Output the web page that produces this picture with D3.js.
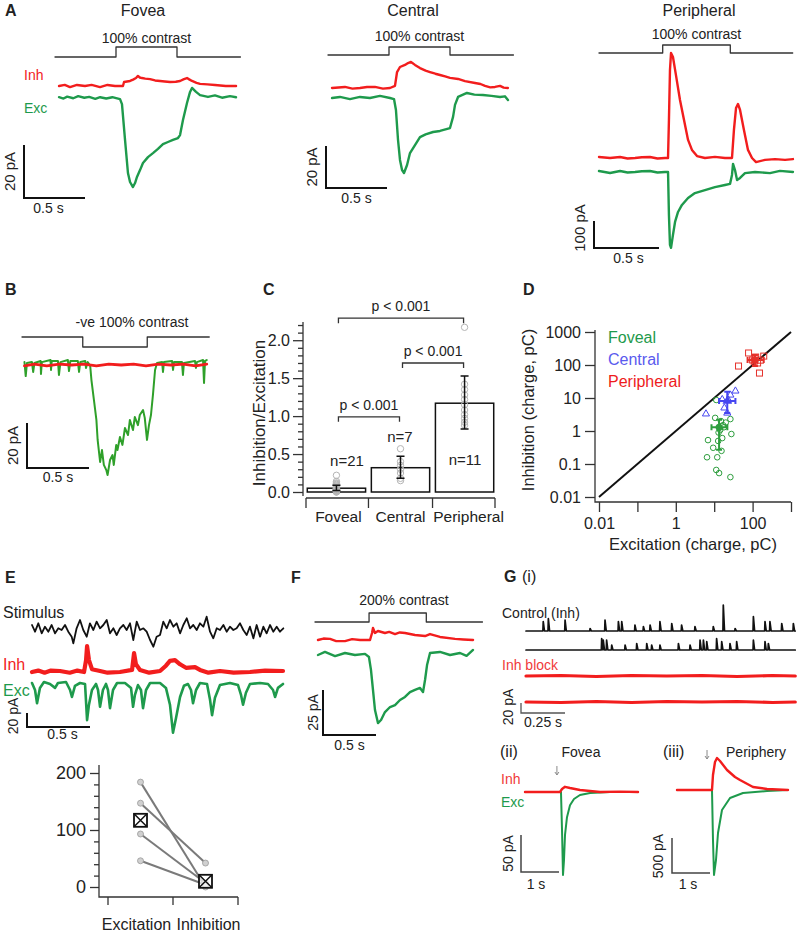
<!DOCTYPE html>
<html><head><meta charset="utf-8">
<script src="https://cdn.jsdelivr.net/npm/d3@7/dist/d3.min.js"></script>
<style>
html,body{margin:0;padding:0;background:#fff;}
svg{display:block;font-family:"Liberation Sans",Arial,Helvetica,sans-serif;}
</style></head><body>
<svg id="fig" width="800" height="932"></svg>
<script>
// ================= DATA =================
// Stimulus waveforms: [time (s), contrast (%)]
const stimA    = [[0,0],[0.5,0],[0.5,100],[1.0,100],[1.0,0],[1.52,0]];
const stimAPer = [[0,0],[0.49,0],[0.49,100],[1.01,100],[1.01,0],[1.49,0]];
const stimB    = [[0,0],[0.49,0],[0.49,-100],[1.01,-100],[1.01,0],[1.51,0]];
const stimF    = [[0,0],[0.51,0],[0.51,200],[1.05,200],[1.05,0],[1.58,0]];

// Panel A traces: [time (s), current (pA) relative to baseline]
const fovInh = [[0.033,0],[0.08,0.4],[0.123,-0.4],[0.18,0.4],[0.246,0],[0.3,0.4],[0.369,-0.4],[0.43,0.4],[0.492,0],[0.557,0],[0.566,1.5],[0.615,1.9],[0.64,2.4],[0.664,3.0],[0.680,3.8],[0.695,3.2],[0.713,3.0],[0.74,2.8],[0.779,2.6],[0.82,2.1],[0.861,1.9],[0.9,1.7],[0.943,1.5],[0.99,1.6],[1.025,1.9],[1.057,2.6],[1.082,3.0],[1.10,2.5],[1.123,1.9],[1.16,1.2],[1.189,0.8],[1.25,0.6],[1.311,0.4],[1.4,0],[1.484,0]];
const fovExc = [[0.033,0.3],[0.07,-0.2],[0.1,0.5],[0.15,-0.1],[0.19,0.7],[0.24,0.1],[0.28,0.4],[0.33,-0.3],[0.37,0.3],[0.42,-0.2],[0.47,0.3],[0.533,-0.4],[0.549,-2.3],[0.574,-15.8],[0.598,-28.3],[0.615,-31.7],[0.639,-33.6],[0.656,-32.1],[0.672,-29.8],[0.697,-27.2],[0.721,-24.5],[0.762,-22.3],[0.803,-20.8],[0.844,-19.2],[0.885,-17.4],[0.926,-16.6],[0.967,-15.8],[1.008,-15.1],[1.025,-14.0],[1.049,-8.3],[1.082,-1.9],[1.107,2.3],[1.123,3.8],[1.156,2.3],[1.189,1.1],[1.254,0.4],[1.311,1.0],[1.369,0.1],[1.434,0.7],[1.484,0.3]];
const cenInh = [[0.033,0],[0.139,0.5],[0.2,-0.3],[0.262,0],[0.32,0.5],[0.385,0.5],[0.45,-0.3],[0.508,0],[0.549,1.0],[0.566,7.6],[0.590,10.0],[0.631,11.0],[0.656,11.9],[0.680,12.4],[0.713,11.0],[0.754,9.5],[0.8,8.3],[0.836,7.6],[0.88,6.8],[0.918,6.2],[0.96,5.5],[1.000,4.8],[1.066,4.3],[1.123,3.3],[1.205,2.4],[1.25,1.9],[1.287,1.0],[1.33,0.3],[1.369,0.5],[1.410,1.0],[1.44,0.2],[1.475,0]];
const cenExc = [[0.033,0],[0.098,0.5],[0.180,-0.5],[0.262,0.5],[0.344,0],[0.426,1.0],[0.508,0],[0.541,-0.5],[0.557,-5.7],[0.574,-20],[0.590,-29.5],[0.607,-34.3],[0.623,-35.7],[0.648,-31.9],[0.672,-26.2],[0.713,-22.4],[0.754,-18.6],[0.80,-17.3],[0.861,-16.2],[0.918,-15.7],[1.000,-14.3],[1.025,-9.0],[1.041,-3.3],[1.066,0.5],[1.139,2.4],[1.2,1.6],[1.270,1.4],[1.34,1.0],[1.410,0.5],[1.45,0.8],[1.475,-1.0]];
const perInh = [[0,3.7],[0.085,0],[0.162,3.7],[0.22,-2],[0.277,0],[0.33,3],[0.392,3.7],[0.45,-2],[0.508,0],[0.531,0],[0.538,141],[0.546,326],[0.554,389],[0.569,374],[0.592,307],[0.623,215],[0.654,141],[0.685,67],[0.715,30],[0.754,7],[0.815,0],[0.892,4],[0.969,0],[1.023,0],[1.038,104],[1.054,185],[1.069,200],[1.085,178],[1.115,104],[1.146,30],[1.177,0],[1.208,-15],[1.277,-7],[1.354,-4],[1.431,-7],[1.492,-4]];
const perExc = [[0,3.7],[0.085,-3.7],[0.162,3.7],[0.22,-2],[0.277,0],[0.33,3],[0.392,3.7],[0.45,-2],[0.508,0],[0.531,0],[0.538,-159],[0.546,-270],[0.554,-281],[0.569,-233],[0.585,-185],[0.608,-148],[0.638,-122],[0.685,-96],[0.738,-78],[0.815,-67],[0.892,-56],[0.969,-48],[1.008,-44],[1.023,-11],[1.031,30],[1.046,7],[1.062,-30],[1.085,-22],[1.123,-4],[1.200,0],[1.315,-4],[1.392,4],[1.492,0]];

// Panel B traces (pA)
const bInh = [[0.02,-0.4],[0.1,0.4],[0.2,-0.4],[0.3,0.4],[0.4,0],[0.5,0.4],[0.6,-0.4],[0.7,0.4],[0.8,0],[0.9,0.4],[1.0,-0.4],[1.1,0.4],[1.2,0],[1.3,0.4],[1.4,-0.4],[1.49,0.4]];
const bExc = [[0.02,0.4],[0.03,-5.8],[0.04,0],[0.08,0.4],[0.09,-4.0],[0.10,0],[0.15,0.9],[0.153,-4.9],[0.16,0.4],[0.23,1.3],[0.234,-3.1],[0.24,0.9],[0.29,0.9],[0.298,-5.3],[0.31,0.4],[0.37,1.3],[0.379,-3.6],[0.39,0.9],[0.45,0.9],[0.46,-4.0],[0.47,0.4],[0.51,0.9],[0.516,-2.2],[0.53,0.4],[0.55,-1.3],[0.56,-7.6],[0.58,-16.4],[0.60,-25.3],[0.61,-34.2],[0.63,-44],[0.645,-38.7],[0.66,-45.3],[0.68,-47.6],[0.69,-49.8],[0.71,-43.1],[0.73,-40.9],[0.74,-45.3],[0.76,-36.4],[0.77,-38.7],[0.79,-32.9],[0.81,-36.4],[0.83,-28.9],[0.855,-32],[0.87,-25.3],[0.895,-29.8],[0.91,-24],[0.935,-27.6],[0.95,-23.1],[0.976,-20.9],[0.99,-24.4],[1.008,-34.2],[1.024,-27.6],[1.04,-23.1],[1.056,-14.2],[1.073,-3.1],[1.089,0],[1.13,0.4],[1.137,-4.0],[1.145,0.4],[1.21,0.9],[1.218,-3.1],[1.226,0.4],[1.29,0.4],[1.298,-5.3],[1.306,0],[1.395,0.9],[1.403,-2.2],[1.41,0.4],[1.46,1.3],[1.468,-8.9],[1.476,0.9],[1.49,1.3]];

// Panel C: inhibition / excitation ratio
const ratioCats  = ["Foveal","Central","Peripheral"];
const ratioMean  = [0.05, 0.32, 1.17];
const ratioErr   = [[0.02,0.09],[0.18,0.47],[0.83,1.53]];
const ratioN     = ["n=21","n=7","n=11"];
const ratioPts   = [
  [0.22,0.14,0.12,0.11,0.10,0.09,0.08,0.07,0.06,0.05,0.05,0.04,0.04,0.03,0.03,0.02,0.02,0.01,0.01,0.0,0.0],
  [0.57,0.40,0.35,0.30,0.25,0.18,0.15],
  [2.17,1.42,1.35,1.28,1.22,1.15,1.08,1.02,0.97,0.92,0.88]
];
const ratioTicks = [0,0.5,1.0,1.5,2.0];
const sigPairs   = [["Foveal","Peripheral",2.29],["Central","Peripheral",1.70],["Foveal","Central",0.99]];
const sigLabel   = "p < 0.001";

// Panel D: [excitation pC, inhibition pC]
const chargeGroups = ["Foveal","Central","Peripheral"];
const chargeFov = [[11.3,8.7],[10.6,2.5],[26.4,2.3],[6.9,0.53],[28,0.81],[16.2,0.61],[9.4,0.31],[6.5,0.16],[12,0.16],[11.3,0.066],[13.4,0.053],[26.4,0.04],[14.3,1.07],[17,1.5],[12.7,0.5],[15,2.0],[18,1.3],[13,0.9],[20,1.8],[15.5,0.25]];
const chargeCen = [[35.7,16.3],[26.4,12.3],[23.3,8.7],[18.4,5],[21.9,3.5],[6.1,3.3],[16.2,9]];
const chargePer = [[78.5,231],[195,186],[43,93],[151,57],[100,142],[135,115],[120,174],[110,130],[160,140]];
// mean [x, y], x-range, y-range
const chargeMeans = [
  {m:[13.4,1.3], xr:[8.5,22], yr:[0.27,2.2]},
  {m:[21.9,8.1], xr:[13.4,35.7], yr:[3.5,15.5]},
  {m:[115,141], xr:[74,195], yr:[93,200]}
];
const logTicks = [0.01,0.1,1,10,100,1000];
const logTickLabels = ["0.01","0.1","1","10","100","1000"];
const unityLine = [[0.01,0.01],[1000,1000]];

// Panel E (top): stimulus (a.u.), Inh / Exc (pA)
const eStim = [[0,3],[0.024,-3.7],[0.05,4.7],[0.077,-5.3],[0.103,1.3],[0.13,-3.7],[0.156,3],[0.183,-5.3],[0.209,-0.3],[0.235,-2],[0.262,3],[0.288,-3.7],[0.315,-8.7],[0.328,-15.3],[0.354,-0.3],[0.381,8],[0.407,-2],[0.434,-8.7],[0.46,4.7],[0.487,-2],[0.513,6.3],[0.54,-0.3],[0.566,3],[0.593,8],[0.619,-5.3],[0.646,-0.3],[0.672,-7],[0.698,-0.3],[0.725,3],[0.751,-2],[0.778,4.7],[0.804,-12],[0.831,6.3],[0.857,-2],[0.884,-0.3],[0.91,-3.7],[0.937,-12],[0.963,-18.7],[0.989,-8.7],[1.016,-7],[1.042,6.3],[1.069,-0.3],[1.095,8],[1.122,1.3],[1.148,4.7],[1.175,-5.3],[1.201,3],[1.228,9.7],[1.254,-0.3],[1.28,3],[1.307,-2],[1.333,4.7],[1.36,1.3],[1.386,11.3],[1.413,-3.7],[1.439,-10.3],[1.466,-0.3],[1.492,-2],[1.519,3],[1.545,-3.7],[1.571,1.3],[1.598,-2],[1.624,-0.3],[1.651,4.7],[1.677,-2],[1.704,-7],[1.73,1.3],[1.757,-10.3],[1.783,3],[1.81,-8.7],[1.836,1.3],[1.862,-5.3],[1.889,3],[1.915,-3.7],[1.942,1.3],[1.968,-3.7],[1.995,-0.3]];
const eInh = [[0,0],[0.05,2],[0.1,-1],[0.15,2],[0.222,1.4],[0.3,-1],[0.36,2],[0.413,0],[0.429,17],[0.437,37],[0.452,17],[0.476,4],[0.54,1.4],[0.6,-1],[0.698,0],[0.794,3],[0.81,27],[0.825,11],[0.857,3],[0.93,-1],[1.016,1.4],[1.063,9],[1.095,16],[1.135,17],[1.175,11],[1.222,6],[1.294,7],[1.333,3],[1.4,-1],[1.492,1.4],[1.6,-1],[1.73,0],[1.85,2],[1.992,1.4]];
const eExc = [[0,0],[0.024,-10],[0.04,-29],[0.063,-7],[0.095,1.4],[0.143,-1.4],[0.183,-7],[0.206,0],[0.27,1.4],[0.302,-10],[0.317,-20],[0.341,-4],[0.381,0],[0.421,-1.4],[0.437,-53],[0.452,-31],[0.476,-10],[0.508,-1.4],[0.524,-10],[0.54,-34],[0.563,-10],[0.587,-1.4],[0.603,-10],[0.619,-36],[0.643,-10],[0.675,0],[0.738,0],[0.786,-7],[0.802,-34],[0.817,-17],[0.841,-3],[0.865,-10],[0.881,-36],[0.905,-10],[0.937,0],[1.016,0],[1.063,-7],[1.095,-31],[1.119,-71],[1.143,-50],[1.175,-20],[1.206,-4],[1.238,-1.4],[1.262,-10],[1.278,-29],[1.302,-10],[1.333,0],[1.389,-1.4],[1.413,-24],[1.429,-46],[1.452,-21],[1.492,-3],[1.571,0],[1.635,-3],[1.659,-17],[1.675,-31],[1.698,-14],[1.73,-1.4],[1.81,0],[1.873,-1.4],[1.913,-10],[1.929,-20],[1.952,-7],[1.992,-1.4]];

// Panel E (bottom): paired charge
const pairCats = ["Excitation","Inhibition"];
const pairExc  = [184,147,93,46];
const pairInh  = [0,42,7,4];
const pairMean = [117,10];
const pairTicksMajor = [0,100,200];
const pairTicksMinor = [20,40,60,80,120,140,160,180];

// Panel F traces (pA)
const fInh = [[0.028,0],[0.08,0.8],[0.142,0.6],[0.2,-0.6],[0.283,-0.6],[0.35,0.5],[0.425,0],[0.519,0],[0.538,3.9],[0.547,6.7],[0.566,3.9],[0.594,5],[0.66,3.9],[0.7,4.5],[0.755,3.3],[0.8,4.2],[0.849,3.9],[0.943,2.8],[1.038,2.2],[1.085,3.3],[1.179,1.7],[1.321,0.6],[1.4,0.3],[1.491,0]];
const fExc = [[0.028,0],[0.094,1.7],[0.189,-0.6],[0.283,1.1],[0.377,0],[0.472,0.6],[0.509,-1.1],[0.528,-8.3],[0.547,-19.4],[0.566,-30.6],[0.594,-37.8],[0.623,-36.1],[0.66,-31.7],[0.708,-28.9],[0.755,-27.8],[0.802,-25],[0.849,-23.3],[0.896,-20.6],[0.943,-19.4],[0.991,-18.3],[1.019,-20.6],[1.038,-13.9],[1.057,-5.6],[1.085,1.1],[1.179,1.7],[1.274,0],[1.368,1.1],[1.43,-0.5],[1.491,2.8]];

// Panel G(i): spontaneous IPSC events [time (s), amplitude (pA)]
const gCtrl1 = [[0.098,19],[0.127,25],[0.222,22],[0.364,5],[0.449,22],[0.525,19],[0.544,19],[0.619,12],[0.667,9],[0.705,12],[0.761,19],[0.828,15],[0.884,12],[0.96,9],[1.064,9],[1.121,52],[1.188,5],[1.292,29],[1.358,19],[1.386,19],[1.453,15],[1.519,15]];
const gCtrl2 = [[0.43,23],[0.439,20],[0.458,20],[0.487,10],[0.563,10],[0.629,13],[0.686,13],[0.714,10],[0.761,10],[0.866,13],[0.932,10],[0.989,20],[1.008,20],[1.027,17],[1.083,23],[1.112,17],[1.159,13],[1.197,17],[1.292,20],[1.358,17],[1.377,13]];
const gBlock1 = [[0,0],[0.2,1],[0.4,-1],[0.6,1],[0.8,0],[1.0,1],[1.2,-1],[1.4,1],[1.53,0]];
const gBlock2 = [[0,0],[0.2,-1],[0.4,1],[0.6,-1],[0.8,1],[1.0,0],[1.2,1],[1.4,-1],[1.53,0]];
const gTraceDur = 1.53;
// Panel G(ii) fovea and G(iii) periphery (pA)
const gFovInh = [[0,0],[0.526,0],[0.921,0],[0.974,4],[1.053,7],[1.184,5.4],[1.447,2.7],[1.711,1.4],[1.974,0],[2.5,0.5],[2.974,0]];
const gFovExc = [[0,0],[0.947,0],[0.974,-51],[1.0,-112],[1.026,-92],[1.053,-58],[1.105,-34],[1.184,-18],[1.289,-9.5],[1.447,-4],[1.711,-1.4],[2.237,0],[2.974,0]];
const gPerInh = [[0,0],[0.605,0],[0.921,0],[0.947,214],[1.0,400],[1.053,457],[1.132,414],[1.316,286],[1.526,186],[1.658,143],[2.0,43],[2.368,14],[2.921,0]];
const gPerExc = [[0,0],[0.921,0],[0.947,-714],[0.974,-1214],[1.026,-1000],[1.079,-614],[1.184,-286],[1.395,-114],[1.737,-43],[2.368,-14],[2.921,0]];
const gFovArrowT = 0.84, gPerArrowT = 0.79;

// ================= DRAWING =================
const svg = d3.select("#fig");
const RED = "#f21d1d", GREEN = "#1e9a4c", BGREEN = "#2fa02a", DK = "#222";

function txt(x, y, s, o = {}) {
  return svg.append("text").attr("x", x).attr("y", y)
    .attr("font-size", o.fs || 14).attr("fill", o.c || DK)
    .attr("text-anchor", o.a || "start")
    .attr("font-weight", o.w || "normal").text(s);
}
function vtxt(x, y, s, o = {}) {
  return svg.append("text").attr("transform", `translate(${x},${y}) rotate(-90)`)
    .attr("font-size", o.fs || 14).attr("fill", o.c || DK)
    .attr("text-anchor", "middle").text(s);
}
const tScale = (x0, pps) => d3.scaleLinear().domain([0, 1]).range([x0, x0 + pps]);
const aScale = (y0, ppu) => d3.scaleLinear().domain([0, 1]).range([y0, y0 - ppu]);
function trace(data, xs, ys, color, w, curve) {
  svg.append("path").datum(data)
    .attr("d", d3.line().x(d => xs(d[0])).y(d => ys(d[1])).curve(curve || d3.curveLinear))
    .attr("fill", "none").attr("stroke", color).attr("stroke-width", w)
    .attr("stroke-linejoin", "round").attr("stroke-linecap", "round");
}
function scaleBar(o) {
  const w = o.xs(o.dur) - o.xs(0), h = o.ys(0) - o.ys(o.amp);
  svg.append("path").attr("d", `M${o.x},${o.y - h}V${o.y}H${o.x + w}`)
    .attr("fill", "none").attr("stroke", o.color || "#111").attr("stroke-width", o.sw || 2);
  txt(o.x + w / 2 + (o.tdx || 0), o.y + (o.tdy || 15), o.tLab, {fs: o.fs || 14, a: "middle"});
  vtxt(o.x - (o.adx || 9), o.acy !== undefined ? o.acy : o.y - h / 2, o.aLab, {fs: o.afs || o.fs || 14});
}

// ---------- Panel A ----------
txt(5, 16, "A", {fs: 16, w: "bold"});
const panelsA = [
  {title: "Fovea", tx: 143, x0: 55, pps: 122, stim: stimA, sY: 57, sPx: 10, inh: fovInh, exc: fovExc, iY: 86, eY: 98, ppa: 2.65, bx: 24, by: 198, amp: 20, lab: "20 pA", tdx: -6},
  {title: "Central", tx: 413, x0: 328, pps: 122, stim: stimA, sY: 55, sPx: 8, inh: cenInh, exc: cenExc, iY: 88, eY: 98, ppa: 2.1, bx: 326, by: 188, amp: 20, lab: "20 pA", tdx: 0},
  {title: "Peripheral", tx: 699, x0: 599, pps: 130, stim: stimAPer, sY: 53, sPx: 8, inh: perInh, exc: perExc, iY: 158, eY: 172, ppa: 0.27, bx: 594, by: 248, amp: 100, lab: "100 pA", tdx: 2, acy: 228}
];
panelsA.forEach(p => {
  const xs = tScale(p.x0, p.pps);
  const ss = d3.scaleLinear().domain([0, 100]).range([p.sY, p.sY - p.sPx]);
  txt(p.tx, 16, p.title, {fs: 16, a: "middle"});
  trace(p.stim, xs, ss, "#333", 1.3);
  const on = p.stim[2][0], off = p.stim[3][0];
  txt(xs((on + off) / 2), p.sY - 14, "100% contrast", {fs: 14, a: "middle"});
  trace(p.inh, xs, aScale(p.iY, p.ppa), RED, 2.4);
  trace(p.exc, xs, aScale(p.eY, p.ppa), GREEN, 2.4);
  scaleBar({xs, ys: aScale(p.by, p.ppa), x: p.bx, y: p.by, dur: 0.5, amp: p.amp, tLab: "0.5 s", aLab: p.lab, tdx: p.tdx, acy: p.acy, fs: 14, afs: 15});
});
txt(24, 80, "Inh", {fs: 14, c: RED});
txt(24, 113, "Exc", {fs: 14, c: GREEN});

// ---------- Panel B ----------
txt(5, 295, "B", {fs: 16, w: "bold"});
{
  const xs = tScale(22, 124);
  const ss = d3.scaleLinear().domain([0, -100]).range([337, 347]);
  trace(stimB, xs, ss, "#333", 1.3);
  txt(132, 327, "-ve 100% contrast", {fs: 14, a: "middle"});
  trace(bExc, xs, aScale(363, 2.25), BGREEN, 2);
  trace(bInh, xs, aScale(365, 2.25), RED, 2.8);
  scaleBar({xs, ys: aScale(468, 2.25), x: 27, y: 468, dur: 0.5, amp: 20, tLab: "0.5 s", aLab: "20 pA", tdy: 14, fs: 14, afs: 15});
}

// ---------- Panel C ----------
txt(263, 295, "C", {fs: 16, w: "bold"});
{
  const cy = d3.scaleLinear().domain([0, 2.24]).range([492, 322]);
  const cx = d3.scaleBand().domain(ratioCats).range([306, 495]).paddingInner(0.09).paddingOuter(0.02);
  const gY = svg.append("g").attr("transform", "translate(303,0)");
  gY.call(d3.axisLeft(cy).tickValues(ratioTicks).tickFormat(d3.format(".1f")).tickSize(10).tickSizeOuter(0));
  gY.call(g => g.select(".domain").attr("d", "M0,322V496"));
  const minor = d3.range(1, 23).map(i => i / 10).filter(v => Math.abs(v * 2 - Math.round(v * 2)) > 1e-6);
  svg.append("g").attr("transform", "translate(303,0)")
    .call(d3.axisLeft(cy).tickValues(minor).tickFormat("").tickSize(5).tickSizeOuter(0))
    .call(g => g.select(".domain").remove());
  svg.selectAll("g.tick text").attr("font-size", 16).attr("fill", DK).attr("font-family", "Liberation Sans, Arial, sans-serif");
  svg.selectAll("g .domain, g .tick line").attr("stroke", "#333").attr("stroke-width", 1.3);
  const bounds = [306, (cx("Foveal") + cx.bandwidth() + cx("Central")) / 2, (cx("Central") + cx.bandwidth() + cx("Peripheral")) / 2, 495];
  svg.append("line").attr("x1", 306).attr("x2", 495).attr("y1", 498).attr("y2", 498).attr("stroke", "#333").attr("stroke-width", 1.3);
  bounds.forEach(b => svg.append("line").attr("x1", b).attr("x2", b).attr("y1", 498).attr("y2", 508).attr("stroke", "#333").attr("stroke-width", 1.3));
  const labDx = [2, 0, 4];
  ratioCats.forEach((c, i) => {
    const xc = cx(c) + cx.bandwidth() / 2;
    txt(xc + labDx[i], 522, c, {fs: 15.5, a: "middle"});
    svg.append("rect").attr("x", cx(c)).attr("y", cy(ratioMean[i])).attr("width", cx.bandwidth())
      .attr("height", cy(0) - cy(ratioMean[i])).attr("fill", "#fff").attr("stroke", "#111").attr("stroke-width", 1.5);
    ratioPts[i].forEach(v => svg.append("circle").attr("cx", xc).attr("cy", cy(v)).attr("r", 3.2)
      .attr("fill", "none").attr("stroke", "#b5b5b5").attr("stroke-width", 1));
    const [lo, hi] = ratioErr[i];
    svg.append("path").attr("d", `M${xc},${cy(lo)}V${cy(hi)}M${xc - 4},${cy(lo)}H${xc + 4}M${xc - 4},${cy(hi)}H${xc + 4}`)
      .attr("stroke", "#111").attr("stroke-width", 1.5).attr("fill", "none");
  });
  const nPos = [[347, 0.34], [400, 0.66], [465, 0.36]];
  ratioN.forEach((n, i) => txt(nPos[i][0], cy(nPos[i][1]), n, {fs: 15, a: "middle"}));
  sigPairs.forEach(([a, b, v]) => {
    const x1 = cx(a) + cx.bandwidth() / 2 + 2, x2 = cx(b) + cx.bandwidth() / 2 - 1, y = cy(v);
    svg.append("path").attr("d", `M${x1},${y + 5}V${y}H${x2}V${y + 5}`).attr("fill", "none").attr("stroke", "#333").attr("stroke-width", 1.3);
    txt((x1 + x2) / 2, y - 7, sigLabel, {fs: 14, a: "middle"});
  });
  vtxt(265, 413, "Inhibition/Excitation", {fs: 17});
}

// ---------- Panel D ----------
txt(523, 295, "D", {fs: 16, w: "bold"});
{
  const dx = d3.scaleLog().domain([0.01, 1000]).range([599, 791]);
  const dy = d3.scaleLog().domain([0.01, 1000]).range([497, 332]);
  const fmt = d => logTickLabels[logTicks.indexOf(d)];
  svg.append("g").attr("transform", "translate(595,0)")
    .call(d3.axisLeft(dy).tickValues(logTicks).tickFormat(fmt).tickSize(10).tickPadding(4))
    .call(g => g.select(".domain").remove());
  svg.append("g").attr("transform", "translate(0,502)")
    .call(d3.axisBottom(dx).tickValues(logTicks).tickFormat(d => [0.01, 1, 100].includes(d) ? fmt(d) : "").tickSize(10).tickPadding(6))
    .call(g => g.select(".domain").remove());
  svg.append("path").attr("d", "M595,330V502H791").attr("fill", "none").attr("stroke", "#333").attr("stroke-width", 1.3);
  svg.selectAll("g.tick text").attr("font-size", 16).attr("fill", DK);
  svg.selectAll("g .tick line").attr("stroke", "#333").attr("stroke-width", 1.3);
  svg.append("path").datum(unityLine).attr("d", d3.line().x(d => dx(d[0])).y(d => dy(d[1])))
    .attr("stroke", "#111").attr("stroke-width", 2).attr("fill", "none");
  const cols = ["#2e9e3e", "#4646f0", "#e5302a"];
  chargeFov.forEach(d => svg.append("circle").attr("cx", dx(d[0])).attr("cy", dy(d[1])).attr("r", 2.8)
    .attr("fill", "none").attr("stroke", cols[0]).attr("stroke-width", 1));
  const tri = d3.symbol().type(d3.symbolTriangle).size(22);
  chargeCen.forEach(d => svg.append("path").attr("d", tri()).attr("transform", `translate(${dx(d[0])},${dy(d[1])})`)
    .attr("fill", "none").attr("stroke", cols[1]).attr("stroke-width", 1));
  chargePer.forEach(d => svg.append("rect").attr("x", dx(d[0]) - 3).attr("y", dy(d[1]) - 3).attr("width", 6).attr("height", 6)
    .attr("fill", "none").attr("stroke", cols[2]).attr("stroke-width", 1));
  chargeMeans.forEach((m, i) => {
    const x = dx(m.m[0]), y = dy(m.m[1]);
    const yl = dy(m.yr[0]), yh = dy(m.yr[1]), xl = dx(m.xr[0]), xh = dx(m.xr[1]);
    svg.append("path").attr("d", `M${x},${yl}V${yh}M${x - 3},${yl}H${x + 3}M${x - 3},${yh}H${x + 3}M${xl},${y}H${xh}M${xl},${y - 3}V${y + 3}M${xh},${y - 3}V${y + 3}`)
      .attr("stroke", cols[i]).attr("stroke-width", 2).attr("fill", "none");
    if (i === 0) svg.append("circle").attr("cx", x).attr("cy", y).attr("r", 3.5).attr("fill", cols[i]);
    if (i === 1) svg.append("path").attr("d", d3.symbol().type(d3.symbolTriangle).size(40)()).attr("transform", `translate(${x},${y})`).attr("fill", cols[i]);
    if (i === 2) svg.append("rect").attr("x", x - 3.5).attr("y", y - 3.5).attr("width", 7).attr("height", 7).attr("fill", cols[i]);
  });
  const legCols = ["#1e9a4c", "#5a5aee", "#ee1c1c"];
  chargeGroups.forEach((g, i) => txt(608, 343 + 22 * i, g, {fs: 16, c: legCols[i]}));
  vtxt(534, 410, "Inhibition (charge, pC)", {fs: 16.5});
  txt(693, 550, "Excitation (charge, pC)", {fs: 16.5, a: "middle"});
}

// ---------- Panel E ----------
txt(5, 583, "E", {fs: 16, w: "bold"});
{
  const xs = tScale(32, 126);
  trace(eStim, xs, aScale(628, 1), "#111", 1.8);
  trace(eInh, xs, aScale(672, 0.7), RED, 4.2);
  trace(eExc, xs, aScale(683, 0.7), GREEN, 2.6);
  txt(3, 618, "Stimulus", {fs: 16});
  txt(3, 670, "Inh", {fs: 16, c: RED});
  txt(3, 696, "Exc", {fs: 16, c: GREEN});
  scaleBar({xs, ys: aScale(727, 0.7), x: 27, y: 727, dur: 0.5, amp: 20, tLab: "0.5 s", aLab: "20 pA", tdx: 4, tdy: 12, adx: 9, acy: 716, fs: 14, afs: 14});

  const ey = d3.scaleLinear().domain([0, 200]).range([887, 773]);
  const ex = d3.scaleBand().domain(pairCats).range([108, 238]);
  svg.append("g").attr("transform", "translate(99,0)")
    .call(d3.axisLeft(ey).tickValues(pairTicksMajor).tickSize(9).tickPadding(4))
    .call(g => g.select(".domain").remove())
    .call(g => g.selectAll("text").attr("font-size", 18).attr("fill", DK));
  svg.append("g").attr("transform", "translate(99,0)")
    .call(d3.axisLeft(ey).tickValues(pairTicksMinor).tickSize(5).tickFormat(""))
    .call(g => g.select(".domain").remove());
  svg.append("path").attr("d", "M99,765V897H238").attr("fill", "none").attr("stroke", "#333").attr("stroke-width", 1.3);
  [108, 173, 238].forEach(b => svg.append("line").attr("x1", b).attr("x2", b).attr("y1", 897).attr("y2", 905).attr("stroke", "#333").attr("stroke-width", 1.3));
  svg.selectAll("g .tick line").attr("stroke", "#333").attr("stroke-width", 1.3);
  const xE = ex("Excitation") + ex.bandwidth() / 2, xI = ex("Inhibition") + ex.bandwidth() / 2;
  txt(xE - 4, 930, "Excitation", {fs: 16, a: "middle"});
  txt(xI + 3, 930, "Inhibition", {fs: 16, a: "middle"});
  pairExc.forEach((v, i) => {
    svg.append("line").attr("x1", xE).attr("y1", ey(v)).attr("x2", xI).attr("y2", ey(pairInh[i]))
      .attr("stroke", "#7a7a7a").attr("stroke-width", 2);
  });
  pairExc.forEach((v, i) => {
    [[xE, v], [xI, pairInh[i]]].forEach(([x, val]) => svg.append("circle").attr("cx", x).attr("cy", ey(val)).attr("r", 3)
      .attr("fill", "#d0d0d0").attr("stroke", "#999").attr("stroke-width", 0.8));
  });
  [[xE, pairMean[0]], [xI, pairMean[1]]].forEach(([x, v]) => {
    const y = ey(v), s = 6.5;
    svg.append("rect").attr("x", x - s).attr("y", y - s).attr("width", 2 * s).attr("height", 2 * s)
      .attr("fill", "#fff").attr("fill-opacity", 0.7).attr("stroke", "#111").attr("stroke-width", 1.8);
    svg.append("path").attr("d", `M${x - s},${y - s}L${x + s},${y + s}M${x + s},${y - s}L${x - s},${y + s}`)
      .attr("stroke", "#111").attr("stroke-width", 1.5);
  });
}

// ---------- Panel F ----------
txt(291, 583, "F", {fs: 16, w: "bold"});
{
  const xs = tScale(315, 106);
  const ss = d3.scaleLinear().domain([0, 200]).range([622, 613]);
  trace(stimF, xs, ss, "#333", 1.3);
  txt(404, 605, "200% contrast", {fs: 14, a: "middle"});
  trace(fInh, xs, aScale(640, 1.8), RED, 2.4);
  trace(fExc, xs, aScale(655, 1.8), GREEN, 2.4);
  scaleBar({xs, ys: aScale(735, 1.8), x: 323, y: 735, dur: 0.5, amp: 25, tLab: "0.5 s", aLab: "25 pA", tdy: 15, adx: 5, fs: 14, afs: 14});
}

// ---------- Panel G ----------
txt(504, 582, "G", {fs: 16, w: "bold"});
txt(522, 582, "(i)", {fs: 16});
{
  const xs = tScale(526, 176);
  const spikes = (ev) => {
    const pts = [[0, 0]];
    ev.forEach(([t, a]) => pts.push([t - 0.002, 0], [t, a], [t + 0.007, 0]));
    pts.push([gTraceDur, 0]);
    return pts;
  };
  txt(502, 618, "Control (Inh)", {fs: 14});
  trace(spikes(gCtrl1), xs, aScale(631, 0.5), "#111", 1.7);
  trace(spikes(gCtrl2), xs, aScale(650, 0.5), "#111", 1.7);
  txt(502, 670, "Inh block", {fs: 14, c: "#f03a3a"});
  trace(gBlock1, xs, aScale(676, 0.5), RED, 3.2);
  trace(gBlock2, xs, aScale(702, 0.5), RED, 3.2);
  scaleBar({xs, ys: aScale(713, 0.5), x: 521, y: 713, dur: 0.25, amp: 20, tLab: "0.25 s", aLab: "20 pA", tdy: 14, adx: 8, acy: 707, color: "#555", sw: 1.3, fs: 14, afs: 14});
}
txt(500, 757, "(ii)", {fs: 16});
txt(581, 757, "Fovea", {fs: 14, a: "middle"});
txt(663, 757, "(iii)", {fs: 16});
txt(756, 757, "Periphery", {fs: 14, a: "middle"});
txt(501, 784, "Inh", {fs: 14, c: "#f03a3a"});
txt(501, 807, "Exc", {fs: 14, c: GREEN});
function arrow(x, y1, y2) {
  svg.append("path").attr("d", `M${x},${y1}V${y2}M${x - 2},${y2 - 3}L${x},${y2}L${x + 2},${y2 - 3}`)
    .attr("stroke", "#8a8a8a").attr("stroke-width", 1).attr("fill", "none");
}
{
  const xs = tScale(525, 38);
  trace(gFovExc, xs, aScale(792, 0.74), GREEN, 2);
  trace(gFovInh, xs, aScale(792, 0.74), RED, 2.4);
  arrow(xs(gFovArrowT), 766, 775);
  scaleBar({xs, ys: aScale(872, 0.74), x: 521, y: 872, dur: 1, amp: 50, tLab: "1 s", aLab: "50 pA", tdx: -4, tdy: 17, adx: 8, color: "#444", sw: 1.5, fs: 14, afs: 14});
}
{
  const xs = tScale(677, 38);
  trace(gPerExc, xs, aScale(790, 0.07), GREEN, 2);
  trace(gPerInh, xs, aScale(790, 0.07), RED, 2.4);
  arrow(xs(gPerArrowT), 750, 759);
  scaleBar({xs, ys: aScale(873, 0.07), x: 672, y: 873, dur: 1, amp: 500, tLab: "1 s", aLab: "500 pA", tdx: -3, tdy: 16, adx: 9, acy: 856, color: "#444", sw: 1.5, fs: 14, afs: 14});
}
</script>
</body></html>
